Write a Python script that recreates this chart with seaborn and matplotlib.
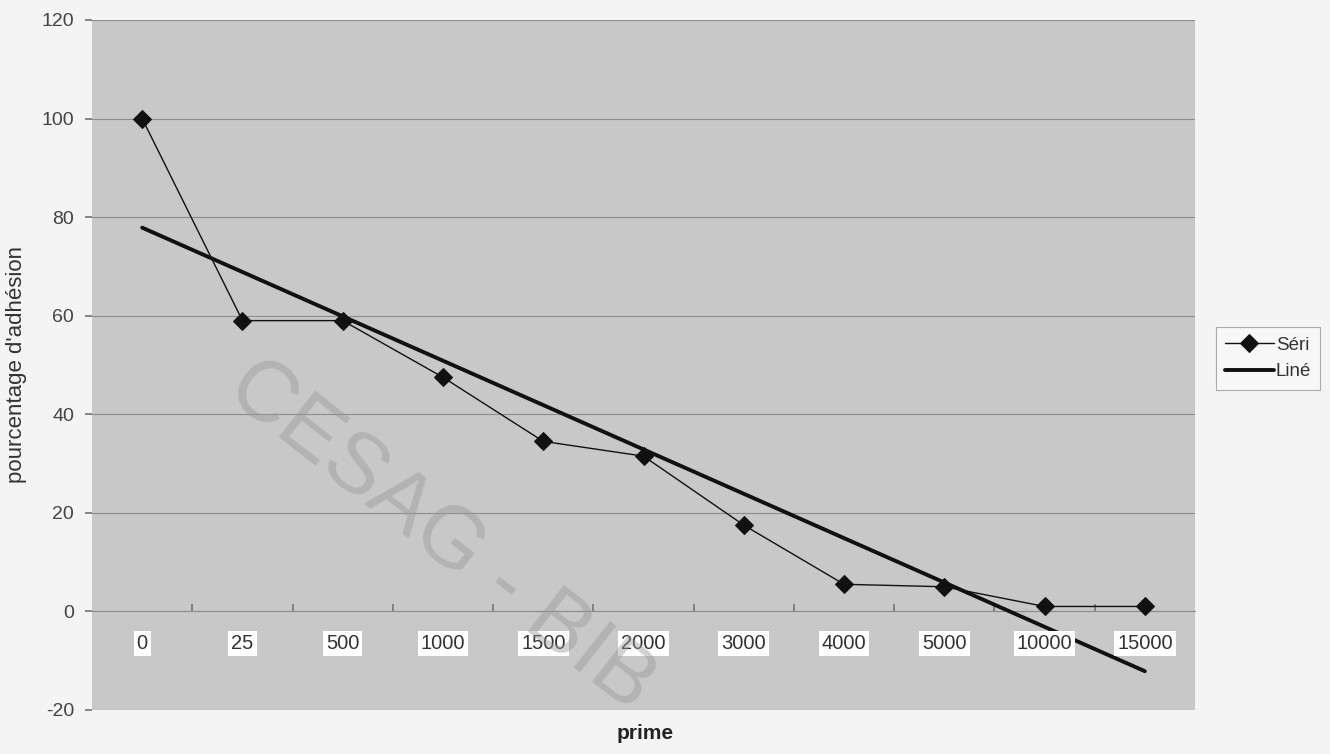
import numpy as np
import pandas as pd
import matplotlib
matplotlib.use("Agg")
import matplotlib.pyplot as plt
import seaborn as sns

categories = ["0", "25", "500", "1000", "1500", "2000", "3000", "4000", "5000", "10000", "15000"]
adhesion = [100, 59, 59, 47.5, 34.5, 31.5, 17.5, 5.5, 5, 1, 1]
y_ticks = [-20, 0, 20, 40, 60, 80, 100, 120]

sns.set_theme(style="white")
plt.rcParams["font.family"] = ["Liberation Sans", "DejaVu Sans"]

pos = np.arange(len(categories))
df = pd.DataFrame({"pos": pos, "prime": categories, "val": adhesion})
coef = np.polyfit(pos + 1, adhesion, 1)
df["trend"] = np.polyval(coef, pos + 1)

fig = plt.figure(figsize=(13.3, 7.54), dpi=100, facecolor="#f4f4f4")
ax = fig.add_axes([0.0692, 0.0584, 0.8293, 0.9151])
ax.set_facecolor("#c8c8c8")

for yv in y_ticks:
    ax.axhline(yv, color="#8c8c8c", lw=0.8, zorder=1)

sns.lineplot(data=df, x="pos", y="val", ax=ax, color="#111111", lw=1.0,
             marker="D", markersize=9, markeredgecolor="#111111", label="Séri", zorder=4)
sns.lineplot(data=df, x="pos", y="trend", ax=ax, color="#111111", lw=2.8,
             label="Liné", zorder=3)

ax.set_xlim(-0.5, len(categories) - 0.5)
ax.set_ylim(-20, 120)
ax.set_yticks(y_ticks)
ax.set_yticklabels([str(v) for v in y_ticks], fontsize=14, color="#444444")
ax.tick_params(axis="y", length=5, color="#777777", pad=8, left=True)

# category axis at y=0 with tick marks between categories
ax.spines["bottom"].set_position(("data", 0))
ax.spines["bottom"].set_color("#8c8c8c")
ax.spines["bottom"].set_linewidth(0.8)
ax.set_xticks(pos[:-1] + 0.5)
ax.set_xticklabels([])
ax.tick_params(axis="x", direction="in", length=5, color="#777777", bottom=True)
for s in ["top", "right", "left"]:
    ax.spines[s].set_visible(False)

for p, c in zip(pos, categories):
    ax.text(p, -6.5, c, ha="center", va="center", fontsize=14.5, color="#333333",
            bbox=dict(boxstyle="square,pad=0.15", fc="white", ec="none"), zorder=5)

ax.set_xlabel("")
ax.set_ylabel("pourcentage d'adhésion", fontsize=16, color="#333333", labelpad=10)
fig.text(0.485, 0.015, "prime", ha="center", va="bottom", fontsize=15,
         fontweight="bold", color="#222222")

# scan watermark
fig.text(0.178, 0.50, "CESAG - BIB", rotation=-38, rotation_mode="anchor",
         fontsize=62, color="#9a9a9a", alpha=0.45, ha="left", va="center", zorder=10)

leg = ax.legend(loc="upper left", bbox_to_anchor=(0.914, 0.566), bbox_transform=fig.transFigure,
                frameon=True, fancybox=False, fontsize=13.5, handlelength=2.6,
                handletextpad=0.1, borderpad=0.5, labelspacing=0.5, borderaxespad=0)
leg.get_frame().set_edgecolor("#999999")
leg.get_frame().set_facecolor("#f8f8f8")
leg.get_frame().set_linewidth(0.8)
for t in leg.get_texts():
    t.set_color("#333333")

fig.savefig("out.png", dpi=100, facecolor=fig.get_facecolor())
